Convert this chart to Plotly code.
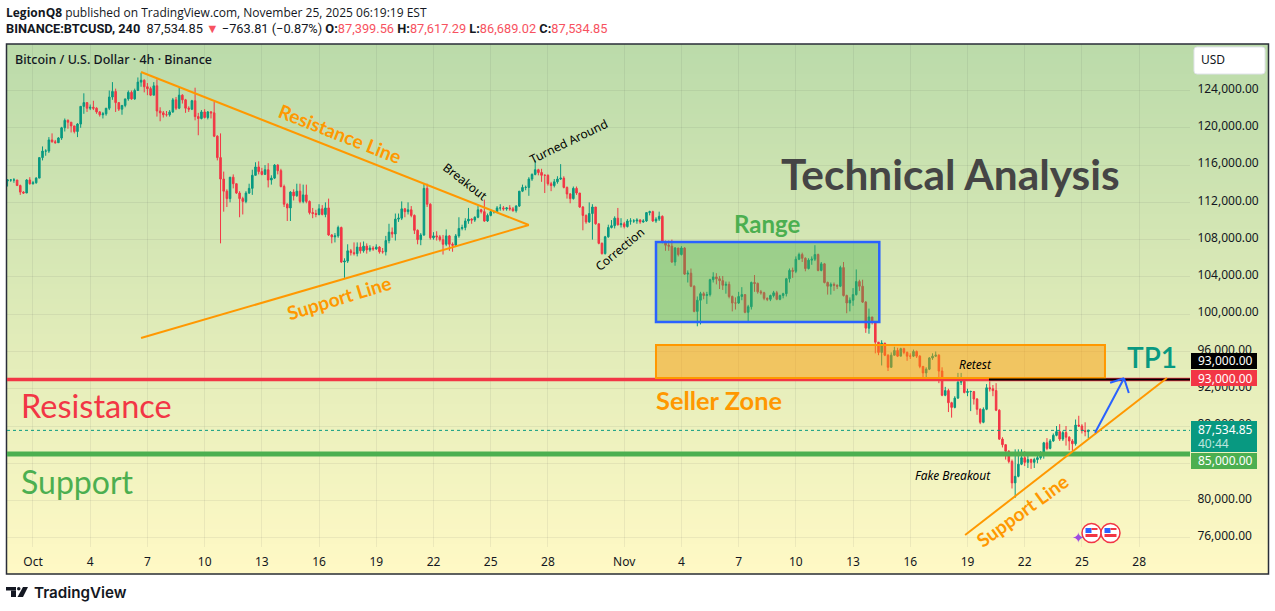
import pandas as pd
import plotly.graph_objects as go

# candle values in thousands of USD, 4h bars, last bar 2025-11-25 08:00
closes = [
    114.4, 114.4, 114.4, 113.8, 113.1, 113.0, 114.4, 114.0, 114.1, 114.6, 116.8,
    117.5, 117.5, 118.7, 118.5, 118.4, 118.9, 120.0, 120.8, 120.6, 120.2,
    119.6, 120.4, 122.3, 122.7, 122.1, 122.2, 122.1, 121.7, 121.4, 121.5,
    122.1, 123.3, 123.9, 122.7, 122.0, 122.4, 123.1, 123.8, 123.1, 124.0,
    124.9, 125.1, 124.4, 124.2, 123.5, 124.5, 121.8, 121.6, 121.4, 121.4,
    121.7, 123.0, 122.1, 123.5, 123.0, 122.1, 122.0, 122.9, 121.2, 121.0,
    121.7, 121.1, 121.7, 121.6, 119.1, 116.8, 114.5, 113.2, 112.4, 114.7,
    114.0, 113.0, 112.4, 112.1, 113.0, 113.5, 114.9, 115.8, 115.3, 115.0,
    115.5, 114.4, 114.6, 116.0, 115.4, 113.7, 111.8, 111.4, 113.1, 112.7,
    113.2, 112.1, 112.8, 112.1, 110.9, 110.8, 110.7, 111.3, 110.7, 111.4,
    108.5, 108.3, 108.4, 109.3, 105.6, 105.7, 106.8, 106.6, 106.5, 107.2,
    106.8, 107.3, 106.9, 107.1, 107.0, 107.2, 106.7, 106.7, 107.9, 108.8,
    108.6, 110.2, 110.3, 111.3, 111.0, 111.2, 110.6, 109.0, 108.0, 108.5,
    113.5, 111.8, 108.2, 108.4, 108.3, 108.0, 107.5, 108.4, 107.5, 107.4,
    108.4, 109.2, 109.3, 110.0, 110.2, 110.1, 110.4, 111.2, 111.0, 110.0,
    110.6, 111.0, 111.0, 111.4, 111.4, 111.3, 111.4, 111.3, 111.1, 111.6,
    113.2, 113.6, 113.6, 114.5, 115.0, 115.5, 115.2, 114.9, 114.9, 114.0,
    113.8, 114.2, 114.5, 114.6, 113.6, 112.9, 112.4, 113.5, 113.0, 111.5,
    110.6, 109.9, 110.8, 111.5, 109.7, 107.6, 106.5, 108.3, 109.3, 109.5,
    110.3, 109.6, 109.7, 109.4, 110.0, 110.0, 110.0, 110.1, 109.9,
    110.0, 110.9, 111.0, 110.0, 110.2, 110.5, 107.8, 107.4, 107.3, 105.6,
    107.1, 106.4, 107.1, 104.3, 104.4, 103.0, 100.3, 101.5, 102.2, 102.0,
    102.1, 103.7, 104.0, 103.8, 103.6, 103.1, 103.2, 101.9, 101.2, 101.2,
    101.9, 102.1, 100.2, 100.8, 103.4, 103.3, 102.4, 102.3, 101.7, 101.6,
    102.0, 102.3, 101.6, 102.0, 102.2, 103.8, 104.7, 104.6, 105.9, 106.4,
    106.0, 104.9, 105.8, 105.9, 106.4, 104.7, 105.4, 103.4, 103.0, 103.2,
    103.1, 103.0, 105.0, 102.0, 101.2, 101.5, 102.1, 103.5, 103.0, 101.3,
    98.5, 99.7, 99.1, 97.0, 95.9, 96.9, 95.6, 94.3, 95.6, 96.1,
    95.5, 96.3, 95.9, 95.5, 95.5, 96.0, 95.5, 94.4, 93.7, 94.1,
    95.3, 95.5, 95.6, 93.9, 91.3, 91.8, 90.5, 90.0, 91.0, 92.7,
    92.8, 91.6, 91.7, 91.7, 90.9, 89.8, 88.4, 89.8, 92.1, 92.0,
    91.8, 89.7, 86.6, 86.0, 85.3, 84.2, 81.9, 82.6, 83.9, 84.6,
    84.1, 84.4, 84.1, 84.4, 84.6, 85.0, 86.2, 85.6, 86.4, 87.0,
    87.4, 86.6, 87.3, 86.8, 86.4, 86.1, 88.1, 88.0, 87.5, 87.4, 87.53,
]
highs = [
    114.5, 114.5, 114.6, 114.4, 113.9, 113.2, 114.5, 114.7, 114.3, 114.7, 116.8,
    118.0, 117.7, 119.0, 119.4, 118.7, 119.0, 120.1, 121.0, 120.9, 120.6,
    120.2, 120.5, 122.3, 123.7, 122.7, 122.5, 122.9, 122.2, 121.8, 121.7,
    122.1, 124.0, 124.9, 124.2, 122.7, 122.4, 123.1, 124.0, 124.0, 124.2,
    125.4, 125.9, 125.2, 124.8, 124.4, 124.9, 125.2, 122.2, 121.8, 121.8,
    121.9, 123.2, 123.3, 124.3, 123.6, 123.1, 122.3, 123.0, 124.3, 121.6,
    121.9, 122.0, 121.8, 121.8, 122.8, 119.2, 119.4, 115.3, 113.4, 114.7,
    115.0, 114.0, 113.2, 112.6, 113.2, 114.0, 115.5, 116.3, 116.4, 115.7,
    116.0, 116.2, 114.9, 116.1, 116.1, 115.6, 113.9, 111.9, 113.2, 113.4,
    114.0, 114.0, 113.9, 113.9, 112.2, 111.4, 111.2, 111.8, 111.7, 112.0,
    112.4, 108.6, 108.7, 109.5, 109.4, 106.0, 107.5, 107.0, 107.7, 107.7,
    107.7, 107.8, 107.6, 107.4, 107.3, 107.5, 107.3, 107.1, 108.4, 109.7,
    109.3, 110.8, 110.8, 112.1, 111.4, 112.0, 111.6, 110.7, 109.1, 108.7,
    114.0, 114.0, 111.9, 108.8, 108.9, 108.5, 108.5, 109.1, 108.5, 107.7,
    108.6, 110.4, 109.6, 110.3, 111.4, 110.3, 110.5, 111.6, 111.3, 112.3,
    110.8, 111.2, 111.1, 111.6, 111.8, 111.6, 111.5, 111.7, 111.5, 111.7,
    113.2, 113.9, 113.8, 114.7, 115.1, 116.5, 115.6, 115.6, 115.0, 115.0,
    114.2, 114.5, 114.8, 116.1, 114.8, 113.7, 113.0, 113.7, 113.7, 113.0,
    111.6, 110.7, 112.0, 111.8, 111.4, 109.7, 107.7, 108.4, 109.6, 110.1,
    110.5, 111.4, 110.3, 109.9, 110.2, 110.3, 110.2, 110.3, 110.2,
    110.2, 110.9, 111.1, 111.1, 110.4, 111.0, 110.6, 107.9, 107.9, 108.0,
    107.2, 107.1, 107.3, 107.2, 104.7, 104.9, 103.1, 101.9, 102.4, 102.4,
    102.4, 103.8, 104.5, 104.4, 104.1, 104.1, 103.5, 103.5, 102.0, 101.8,
    102.4, 102.9, 102.1, 101.0, 103.5, 104.2, 103.4, 102.6, 102.4, 101.8,
    102.1, 102.5, 102.5, 102.1, 102.3, 103.9, 104.9, 105.0, 106.2, 106.6,
    106.6, 106.1, 106.0, 106.2, 107.4, 106.5, 105.6, 105.5, 103.5, 103.4,
    103.4, 103.2, 105.2, 105.6, 102.1, 101.8, 102.8, 104.8, 103.7, 103.7,
    101.4, 100.6, 99.7, 99.2, 97.0, 97.2, 96.9, 95.7, 95.9, 96.5,
    96.4, 96.4, 96.4, 96.0, 95.8, 96.2, 96.1, 95.6, 94.4, 94.3,
    95.4, 95.8, 96.0, 95.7, 94.3, 92.2, 92.0, 90.6, 91.2, 93.7,
    93.7, 93.0, 92.0, 91.8, 91.7, 91.0, 89.9, 90.0, 92.5, 92.8,
    92.4, 92.6, 89.8, 86.8, 86.0, 85.4, 84.4, 85.5, 85.5, 85.5,
    85.3, 84.8, 84.5, 84.6, 84.8, 85.3, 86.3, 86.7, 86.6, 87.2,
    88.0, 88.2, 87.5, 88.0, 86.9, 86.6, 88.7, 89.1, 88.2, 88.4, 87.62,
]
lows = [
    113.7, 114.2, 114.1, 113.8, 112.8, 112.9, 113.0, 113.9, 113.9, 114.0, 114.6,
    116.5, 117.0, 117.3, 118.4, 118.3, 118.4, 118.7, 119.6, 119.9, 119.5,
    119.4, 119.0, 120.0, 121.5, 121.7, 121.9, 121.9, 121.5, 121.2, 121.0,
    121.3, 121.9, 123.0, 121.7, 121.8, 121.4, 122.2, 122.9, 123.0, 123.0,
    124.0, 124.4, 123.8, 123.5, 123.4, 123.5, 121.2, 120.7, 121.1, 121.2,
    121.2, 121.6, 121.9, 122.0, 122.6, 121.6, 121.7, 121.9, 120.8, 119.2,
    120.9, 121.0, 120.9, 121.0, 119.0, 116.5, 107.6, 111.0, 111.5, 112.0,
    113.5, 112.9, 110.4, 110.7, 111.9, 112.9, 112.8, 114.9, 115.0, 114.9,
    115.0, 113.6, 113.9, 114.5, 115.0, 113.6, 111.5, 110.0, 110.0, 112.2,
    112.6, 111.9, 111.9, 111.9, 110.7, 110.3, 110.4, 110.6, 110.6, 110.4,
    108.4, 107.6, 107.7, 108.2, 105.5, 103.9, 105.5, 106.3, 106.3, 106.2,
    106.5, 106.6, 106.5, 106.7, 106.8, 106.9, 106.5, 106.5, 106.3, 107.6,
    108.2, 107.9, 109.9, 110.1, 110.4, 110.7, 110.4, 108.6, 107.5, 107.4,
    108.4, 111.5, 108.0, 108.0, 107.9, 107.8, 106.4, 107.3, 106.8, 106.7,
    107.3, 108.2, 109.0, 109.0, 109.7, 109.7, 109.9, 110.3, 110.8, 109.9,
    109.9, 110.5, 110.8, 110.9, 111.1, 111.1, 111.1, 111.1, 111.0, 110.9,
    111.5, 113.1, 113.3, 112.7, 114.3, 114.9, 114.9, 114.2, 113.0, 113.8,
    113.2, 113.6, 114.0, 114.4, 113.5, 112.4, 111.9, 112.3, 112.8, 111.4,
    109.0, 109.7, 109.8, 108.0, 109.6, 107.5, 106.4, 106.4, 108.2, 109.2,
    109.2, 109.5, 109.3, 109.2, 109.3, 109.6, 109.8, 109.7, 109.7,
    109.8, 109.9, 110.6, 109.9, 109.8, 110.0, 107.6, 106.8, 106.8, 105.5,
    105.2, 106.2, 106.3, 104.2, 103.4, 102.9, 100.2, 98.7, 98.9, 101.6,
    101.1, 101.9, 103.4, 103.2, 102.7, 102.6, 102.2, 101.7, 100.3, 100.5,
    101.1, 101.5, 100.1, 99.2, 100.5, 102.4, 102.2, 102.1, 101.5, 101.4,
    101.4, 101.8, 101.5, 101.5, 101.7, 101.9, 103.4, 103.9, 104.4, 105.8,
    105.6, 104.6, 104.8, 105.3, 105.7, 104.6, 104.6, 103.3, 102.1, 102.1,
    102.5, 102.7, 102.9, 101.9, 100.1, 100.3, 100.9, 102.0, 102.5, 101.2,
    98.0, 97.9, 98.9, 95.8, 95.6, 94.5, 95.5, 93.9, 94.4, 95.8,
    95.4, 95.5, 95.7, 95.0, 95.2, 95.4, 95.3, 94.2, 93.1, 93.1,
    94.0, 95.1, 95.4, 92.6, 91.2, 91.2, 89.5, 88.9, 89.9, 90.9,
    92.4, 91.5, 91.2, 89.6, 90.3, 89.2, 88.2, 88.3, 89.7, 91.7,
    91.2, 89.6, 86.5, 85.7, 84.4, 84.0, 81.3, 80.3, 82.5, 83.8,
    83.7, 83.5, 83.4, 83.5, 84.0, 84.4, 84.5, 85.4, 85.5, 86.3,
    86.9, 86.4, 86.4, 85.9, 85.4, 85.0, 85.9, 87.9, 87.2, 86.9, 86.69,
]
first_open = 114.3
last_bar = "2025-11-25 08:00"

price_ticks = [124, 120, 116, 112, 108, 104, 100, 96, 92, 88, 84, 80, 76]
date_ticks = [
    "2025-10-01", "2025-10-04", "2025-10-07", "2025-10-10", "2025-10-13",
    "2025-10-16", "2025-10-19", "2025-10-22", "2025-10-25", "2025-10-28",
    "2025-11-01", "2025-11-04", "2025-11-07", "2025-11-10", "2025-11-13",
    "2025-11-16", "2025-11-19", "2025-11-22", "2025-11-25", "2025-11-28",
]
date_labels = ["Oct", "4", "7", "10", "13", "16", "19", "22", "25", "28",
               "Nov", "4", "7", "10", "13", "16", "19", "22", "25", "28"]

resistance_level = 93.0
support_level = 85.0
last_price = 87.53485

GREEN = "#089981"
RED = "#F23645"
ORANGE = "#FF9800"
LEVEL_GREEN = "#4CAF50"
BLUE = "#2962FF"
INK = "#131722"
FONT = "Noto Sans"
DRAW_FONT = "Lato"

PLOT_L, PLOT_R, PLOT_T, PLOT_B = 7, 1190, 44, 547


def px_x(x):
    return (x - PLOT_L) / (PLOT_R - PLOT_L)


def px_y(y):
    return (PLOT_B - y) / (PLOT_B - PLOT_T)


def paper_rect(x0, y0, x1, y1, **kw):
    return dict(type="rect", xref="paper", yref="paper",
                x0=px_x(x0), x1=px_x(x1), y0=px_y(y0), y1=px_y(y1), **kw)


def trend(x0, y0, x1, y1, color=ORANGE, width=2):
    return dict(type="line", xref="x", yref="y", x0=x0, y0=y0 * 1000, x1=x1, y1=y1 * 1000,
                line=dict(color=color, width=width), layer="above")


def label(text, x, y, size=12, color=INK, angle=0, anchor="center", weight=None, font=FONT):
    # annotations carry about 2px of padding on the anchored side
    if anchor == "left":
        x -= 2
    return dict(text=text, x=px_x(x), y=px_y(y), xref="paper", yref="paper", showarrow=False,
                xanchor=anchor, yanchor="middle", textangle=angle,
                font=dict(family=font, size=size, color=color, weight=weight))


def money(v):
    return f"{v * 1000:,.2f}"


dates = pd.date_range(end=last_bar, periods=len(closes), freq="4h")
opens = [first_open] + closes[:-1]

fig = go.Figure(
    go.Candlestick(
        x=dates,
        open=[v * 1000 for v in opens],
        high=[v * 1000 for v in highs],
        low=[v * 1000 for v in lows],
        close=[v * 1000 for v in closes],
        increasing=dict(line=dict(color=GREEN, width=1), fillcolor=GREEN),
        decreasing=dict(line=dict(color=RED, width=1), fillcolor=RED),
        whiskerwidth=0,
    )
)

# pane background gradient, drawn under the grid
shapes = []
top_rgb, bottom_rgb = (187, 219, 170), (255, 249, 197)
bands = 106
for i in range(bands):
    t = i / (bands - 1)
    rgb = [round(a + (b - a) * t) for a, b in zip(top_rgb, bottom_rgb)]
    y0 = 44 + 5 * i
    shapes.append(paper_rect(7, y0, 1268, y0 + 5.5, layer="below", line_width=0,
                             fillcolor=f"rgb({rgb[0]},{rgb[1]},{rgb[2]})"))
shapes.append(paper_rect(6.5, 44, 1268.5, 574, layer="above",
                         line=dict(color="#2A2E39", width=1.5)))

# levels and trend lines
shapes += [
    dict(type="line", xref="paper", yref="y", x0=0, x1=1, y0=last_price * 1000, y1=last_price * 1000,
         line=dict(color=GREEN, width=1, dash="dot"), layer="above"),
    dict(type="line", xref="paper", yref="y", x0=0, x1=1,
         y0=resistance_level * 1000, y1=resistance_level * 1000,
         line=dict(color=RED, width=3.5), layer="above"),
    dict(type="line", xref="paper", yref="y", x0=0, x1=1,
         y0=support_level * 1000, y1=support_level * 1000,
         line=dict(color=LEVEL_GREEN, width=5), layer="above"),
    dict(type="rect", xref="x", yref="y", x0="2025-11-02 16:00", x1="2025-11-14 09:00",
         y0=99160, y1=107740, line=dict(color=BLUE, width=2.5),
         fillcolor="rgba(76,175,80,0.42)", layer="above"),
    dict(type="rect", xref="x", yref="y", x0="2025-11-02 16:00", x1="2025-11-26 05:00",
         y0=93150, y1=96690, line=dict(color=ORANGE, width=2),
         fillcolor="rgba(255,152,0,0.48)", layer="above"),
    dict(type="line", xref="x", yref="y", x0="2025-11-20 03:00", x1="2025-11-30 16:00",
         y0=93000, y1=93000, line=dict(color="#000000", width=2), layer="above"),
    trend("2025-10-06 16:00", 125.98, "2025-10-27 00:00", 109.57),
    trend("2025-10-06 16:00", 97.44, "2025-10-27 00:00", 109.57),
    trend("2025-11-18 21:00", 76.3, "2025-11-29 11:00", 93.15),
    trend("2025-11-25 16:30", 87.28, "2025-11-27 05:00", 93.12, BLUE),
    trend("2025-11-26 11:30", 92.65, "2025-11-27 05:00", 93.12, BLUE),
    trend("2025-11-27 11:00", 91.54, "2025-11-27 05:00", 93.12, BLUE),
]

# price tags on the right axis
shapes += [
    paper_rect(1191, 353, 1257, 369, fillcolor="#000000", line_width=0, layer="above"),
    paper_rect(1191, 370, 1257, 386, fillcolor=RED, line_width=0, layer="above"),
    paper_rect(1191, 421, 1257, 452, fillcolor=GREEN, line_width=0, layer="above"),
    paper_rect(1191, 453, 1257, 469, fillcolor=LEVEL_GREEN, line_width=0, layer="above"),
]

# USD button
shapes.append(dict(type="path", xref="paper", yref="paper", layer="above",
                   path=" ".join([
                       f"M {px_x(1197)} {px_y(47)}", f"L {px_x(1262)} {px_y(47)}",
                       f"Q {px_x(1265)} {px_y(47)} {px_x(1265)} {px_y(50)}",
                       f"L {px_x(1265)} {px_y(71)}",
                       f"Q {px_x(1265)} {px_y(74)} {px_x(1262)} {px_y(74)}",
                       f"L {px_x(1197)} {px_y(74)}",
                       f"Q {px_x(1194)} {px_y(74)} {px_x(1194)} {px_y(71)}",
                       f"L {px_x(1194)} {px_y(50)}",
                       f"Q {px_x(1194)} {px_y(47)} {px_x(1197)} {px_y(47)} Z",
                   ]),
                   fillcolor="#FFFFFF", line=dict(color="#E0E3EB", width=1)))

# event flags near the bottom of the pane
for cx in (1091.5, 1110.5):
    cy = 533
    shapes += [
        dict(type="circle", xref="paper", yref="paper", layer="above",
             x0=px_x(cx - 9.5), x1=px_x(cx + 9.5), y0=px_y(cy - 9.5), y1=px_y(cy + 9.5),
             fillcolor="#FFFFFF", line=dict(color=RED, width=1.5)),
        paper_rect(cx - 6, cy - 5, cx, cy, fillcolor="#2962FF", line_width=0, layer="above"),
        paper_rect(cx, cy - 5, cx + 6, cy - 3, fillcolor=RED, line_width=0, layer="above"),
        paper_rect(cx - 6, cy + 1, cx + 6, cy + 4, fillcolor=RED, line_width=0, layer="above"),
    ]

# TradingView logo
shapes += [
    paper_rect(6, 587, 16, 590.5, fillcolor=INK, line_width=0),
    paper_rect(11, 590.5, 16, 597, fillcolor=INK, line_width=0),
    dict(type="circle", xref="paper", yref="paper", fillcolor=INK, line_width=0,
         x0=px_x(17), x1=px_x(20.5), y0=px_y(587), y1=px_y(590.5)),
    dict(type="path", xref="paper", yref="paper", fillcolor=INK, line_width=0,
         path=f"M {px_x(23)} {px_y(587)} L {px_x(28)} {px_y(587)} L {px_x(23)} {px_y(597)} "
              f"L {px_x(17.5)} {px_y(597)} Z"),
]

red = "color:#F7525F"
annotations = [
    label("<b>LegionQ8</b> published on TradingView.com, November 25, 2025 06:19:19 EST",
          6, 12, 12, anchor="left", font="Open Sans"),
    label(f"<b>BINANCE:BTCUSD, 240</b>  87,534.85 <span style='{red}'>▼</span> −763.81 (−0.87%) "
          f"<b>O:</b><span style='{red}'>87,399.56</span> <b>H:</b><span style='{red}'>87,617.29</span> "
          f"<b>L:</b><span style='{red}'>86,689.02</span> <b>C:</b><span style='{red}'>87,534.85</span>",
          6, 29, 12.8, anchor="left", font="Roboto"),
    label("Bitcoin / U.S. Dollar · 4h · Binance", 15, 60, 12.5, anchor="left", weight=500),
    label("USD", 1213, 60, 12),
    label("Technical Analysis", 950, 174, 42.4, "#454545", weight=700, font=DRAW_FONT),
    label("Resistance Line", 340, 134, 19, ORANGE, angle=21.5, weight=700, font=DRAW_FONT),
    label("Support Line", 339, 297, 19, ORANGE, angle=-17, weight=700, font=DRAW_FONT),
    label("Support Line", 1022, 510, 19, ORANGE, angle=-36, weight=700, font=DRAW_FONT),
    label("Range", 767, 223, 24, LEVEL_GREEN, weight=700, font=DRAW_FONT),
    label("Seller Zone", 656, 400, 25.4, ORANGE, anchor="left", weight=700, font=DRAW_FONT),
    label("Resistance", 21, 405, 32.5, RED, anchor="left", font=DRAW_FONT),
    label("Support", 21, 481, 32, LEVEL_GREEN, anchor="left", font=DRAW_FONT),
    label("TP1", 1152, 357, 28, GREEN, weight=600, font=DRAW_FONT),
    label("Breakout", 465, 182, 12, "#000000", angle=38),
    label("Turned Around", 568, 141, 12, "#000000", angle=-26),
    label("Correction", 619, 249, 12, "#000000", angle=-40),
    label("<i>Fake Breakout</i>", 953, 475, 12, "#000000"),
    label("<i>Retest</i>", 975, 364, 12, "#000000"),
    label("93,000.00", 1198, 361, 12, "#FFFFFF", anchor="left"),
    label("93,000.00", 1198, 378, 12, "#FFFFFF", anchor="left"),
    label("87,534.85", 1198, 429, 12, "#FFFFFF", anchor="left"),
    label("40:44", 1198, 443, 12, "#BFE6DF", anchor="left"),
    label("85,000.00", 1198, 460, 12, "#FFFFFF", anchor="left"),
    label("✦", 1078, 537, 15, "#9C4DE0"),
    label("TradingView", 34, 592, 15.2, INK, anchor="left", weight=600, font="Inter"),
]

fig.update_layout(
    width=1275,
    height=611,
    margin=dict(l=PLOT_L, r=1275 - PLOT_R, t=PLOT_T, b=611 - PLOT_B),
    paper_bgcolor="#FFFFFF",
    plot_bgcolor="rgba(0,0,0,0)",
    showlegend=False,
    shapes=shapes,
    annotations=annotations,
    font=dict(family=FONT, size=12, color=INK),
)
fig.update_xaxes(
    type="date",
    range=["2025-09-29 15:18", "2025-11-30 16:00"],
    rangeslider_visible=False,
    tickmode="array",
    tickvals=date_ticks,
    ticktext=date_labels,
    tickangle=0,
    ticks="outside",
    ticklen=4,
    tickcolor="rgba(0,0,0,0)",
    showgrid=True,
    gridcolor="rgba(42,46,57,0.07)",
    zeroline=False,
    showline=False,
)
fig.update_yaxes(
    side="right",
    range=[75020, 128990],
    tickmode="array",
    tickvals=[v * 1000 for v in price_ticks],
    ticktext=[money(v) for v in price_ticks],
    ticks="outside",
    ticklen=4,
    tickcolor="rgba(0,0,0,0)",
    ticklabelshift=-2,
    showgrid=True,
    gridcolor="rgba(42,46,57,0.07)",
    zeroline=False,
    showline=False,
)

fig.write_html(
    "out.html",
    config={"displayModeBar": False},
    post_script="document.body.style.margin='0';",
)
